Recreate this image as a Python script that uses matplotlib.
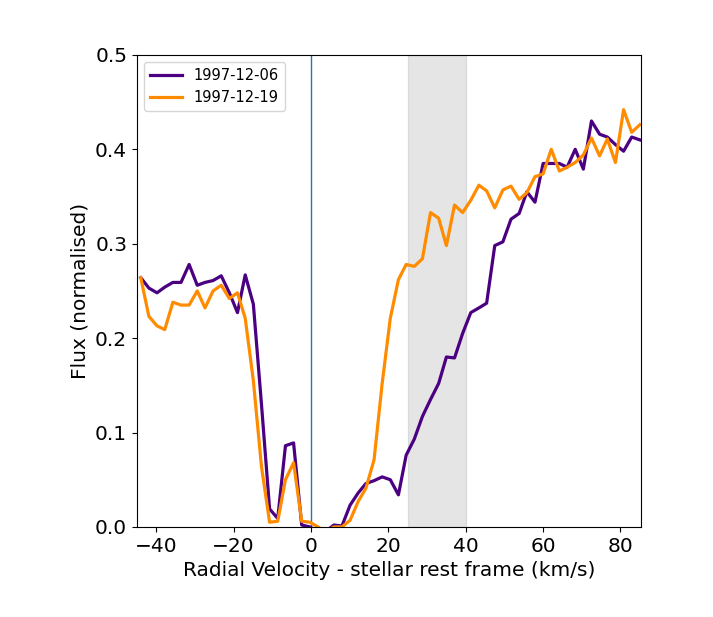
import numpy as np
from matplotlib import pyplot as plt

# radial velocity grid (km/s)
velocity = [-44.0, -41.9, -39.8, -37.8, -35.7, -33.6, -31.5, -29.4, -27.4, -25.3,
            -23.2, -21.1, -19.0, -17.0, -14.9, -12.8, -10.7, -8.6, -6.6, -4.5,
            -2.4, -0.3, 1.8, 3.8, 5.9, 8.0, 10.1, 12.2, 14.2, 16.3,
            18.4, 20.5, 22.6, 24.6, 26.7, 28.8, 30.9, 33.0, 35.0, 37.1,
            39.2, 41.3, 43.4, 45.4, 47.5, 49.6, 51.7, 53.8, 55.8, 57.9,
            60.0, 62.1, 64.2, 66.2, 68.3, 70.4, 72.5, 74.6, 76.6, 78.7,
            80.8, 82.9, 85.0]

flux_0612 = [0.264, 0.253, 0.248, 0.254, 0.259, 0.259, 0.278, 0.256, 0.259, 0.261,
             0.266, 0.248, 0.227, 0.267, 0.236, 0.130, 0.019, 0.009, 0.086, 0.089,
             0.002, 0.000, -0.005, -0.005, 0.002, 0.001, 0.023, 0.036, 0.046, 0.049,
             0.053, 0.050, 0.034, 0.076, 0.093, 0.117, 0.135, 0.152, 0.180, 0.179,
             0.205, 0.227, 0.232, 0.237, 0.298, 0.302, 0.326, 0.332, 0.355, 0.344,
             0.385, 0.385, 0.385, 0.381, 0.400, 0.379, 0.430, 0.416, 0.413, 0.405,
             0.398, 0.413, 0.410]

flux_1219 = [0.264, 0.223, 0.213, 0.209, 0.238, 0.235, 0.235, 0.250, 0.232, 0.250,
             0.256, 0.242, 0.248, 0.221, 0.155, 0.064, 0.005, 0.006, 0.050, 0.068,
             0.006, 0.005, 0.000, -0.005, 0.000, 0.000, 0.007, 0.027, 0.041, 0.071,
             0.152, 0.221, 0.262, 0.278, 0.276, 0.284, 0.333, 0.327, 0.298, 0.341,
             0.333, 0.346, 0.362, 0.356, 0.338, 0.357, 0.361, 0.347, 0.354, 0.371,
             0.374, 0.400, 0.377, 0.381, 0.386, 0.394, 0.412, 0.393, 0.411, 0.386,
             0.442, 0.418, 0.426]

fig = plt.figure(figsize=(7.13, 6.17), dpi=100)
ax = fig.add_axes([0.192, 0.146, 0.707, 0.765])

ax.axvspan(25, 40, color='grey', alpha=0.2)
ax.axvline(0, color='tab:blue', linewidth=1)
ax.plot(velocity, flux_0612, color='indigo', linewidth=2.3, label='1997-12-06')
ax.plot(velocity, flux_1219, color='darkorange', linewidth=2.3, label='1997-12-19')

ax.set_xlim(-45, 85.3)
ax.set_ylim(0, 0.5)
ax.set_xlabel('Radial Velocity - stellar rest frame (km/s)', fontsize=14.5)
ax.set_ylabel('Flux (normalised)', fontsize=14.5)
ax.tick_params(labelsize=14.5)
ax.legend(loc='upper left', fontsize=10.5, handlelength=2.2)

fig.savefig('out.png', dpi=100)
